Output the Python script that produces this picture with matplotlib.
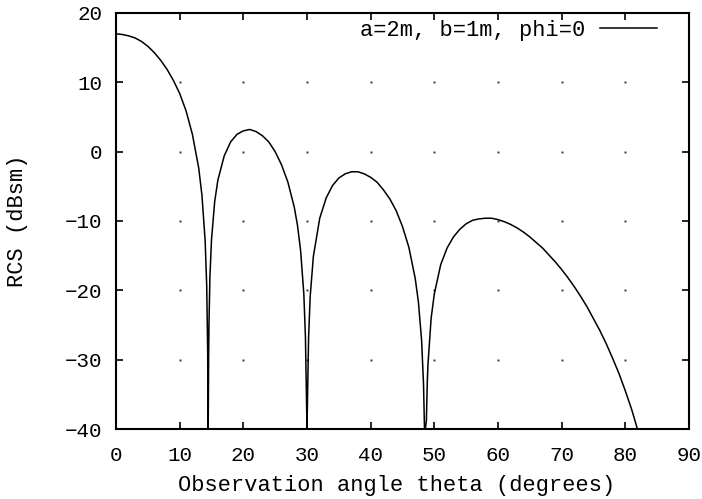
import matplotlib
matplotlib.use("Agg")
import matplotlib.pyplot as plt
import numpy as np

# RCS of a 2 m x 1 m plate
theta_deg = [0, 1, 2, 3, 4, 5, 6, 7, 8, 9, 10, 11, 12, 13, 13.5, 14, 14.25,
             14.4, 14.45, 14.48, 14.55, 14.6, 14.75, 15, 15.5, 16, 17, 18, 19,
             20, 21, 22, 23, 24, 25, 26, 27, 28, 28.5, 29, 29.5, 29.75, 29.9,
             30, 30.1, 30.25, 30.5, 31, 32, 33, 34, 35, 36, 37, 38, 39, 40, 41,
             42, 43, 44, 45, 46, 47, 47.5, 48, 48.3, 48.45, 48.59, 48.75, 48.9,
             49, 49.5, 50, 51, 52, 53, 54, 55, 56, 57, 58, 59, 60, 61, 62, 63,
             64, 65, 66, 67, 68, 69, 70, 71, 72, 73, 74, 75, 76, 77, 78, 79, 80,
             81, 81.9]
rcs_dbsm = [17.0, 16.9, 16.7, 16.4, 15.9, 15.2, 14.3, 13.2, 11.9, 10.3, 8.4,
            5.9, 2.5, -2.4, -6.3, -12.8, -19.4,
            -28.8, -37.9, -40.0, -29.6, -25.0, -18.1, -12.7, -7.2, -4.1, -0.6,
            1.4, 2.5,
            3.0, 3.2, 2.9, 2.3, 1.4, 0.0, -1.9, -4.4, -8.0, -10.6, -14.3, -20.5,
            -26.6, -34.6,
            -40.0, -34.6, -26.8, -20.9, -15.1, -9.6, -6.7, -4.9, -3.8, -3.2,
            -2.9, -2.9, -3.2, -3.7, -4.4,
            -5.5, -6.8, -8.5, -10.8, -13.8, -18.3, -21.7, -27.2, -33.5, -39.8,
            -40.0, -38.8, -33.1,
            -30.7, -24.0, -20.5, -16.3, -13.9, -12.3, -11.2, -10.4, -9.9, -9.7,
            -9.6, -9.6, -9.8, -10.1, -10.5, -11.0,
            -11.6, -12.3, -13.1, -13.9, -14.9, -15.9, -17.0, -18.2, -19.5,
            -20.9, -22.4, -24.1, -25.8, -27.7, -29.8, -32.0, -34.5,
            -37.2, -40.0]
series_label = "a=2m, b=1m, phi=0"
x_ticks = [0, 10, 20, 30, 40, 50, 60, 70, 80, 90]
y_ticks = [-40, -30, -20, -10, 0, 10, 20]

FONT = ["Liberation Mono", "DejaVu Sans Mono"]
plt.rcParams["font.family"] = FONT
TXT = 15.8

fig = plt.figure(figsize=(7.02, 4.99), dpi=100)
ax = fig.add_axes([116 / 702, 1 - 429 / 499, (689 - 116) / 702, (429 - 13) / 499])

# gnuplot-style dotted grid: only dots at the interior tick crossings
gx, gy = np.meshgrid(x_ticks[1:-1], y_ticks[1:-1])
ax.plot(gx.ravel(), gy.ravel(), ls="none", marker="s", ms=1.4,
        color="#333333", mew=0, zorder=1)

ax.plot(theta_deg, rcs_dbsm, color="black", lw=1.1, label=series_label,
        zorder=3)

ax.set_xlim(0, 90)
ax.set_ylim(-40, 20)
ax.set_xticks(x_ticks)
ax.set_yticks(y_ticks)
ax.tick_params(direction="in", length=5, width=1.2, top=True, right=True,
               labelsize=15, colors="black")
ax.tick_params(axis="x", pad=12.5)
ax.tick_params(axis="y", pad=10)
for sp in ax.spines.values():
    sp.set_linewidth(1.5)

ax.legend(loc="upper right", bbox_to_anchor=(0.944, 0.983), frameon=False,
          markerfirst=False, fontsize=TXT, handlelength=2.6,
          handletextpad=0.68, borderaxespad=0, borderpad=0)

fig.text(397 / 702, 1 - 486 / 499, "Observation angle theta (degrees)",
         ha="center", va="center", fontsize=TXT)
fig.text(18 / 702, 1 - 221 / 499, "RCS (dBsm)", rotation=90,
         ha="center", va="center", fontsize=TXT)

fig.savefig("out.png", dpi=100)
